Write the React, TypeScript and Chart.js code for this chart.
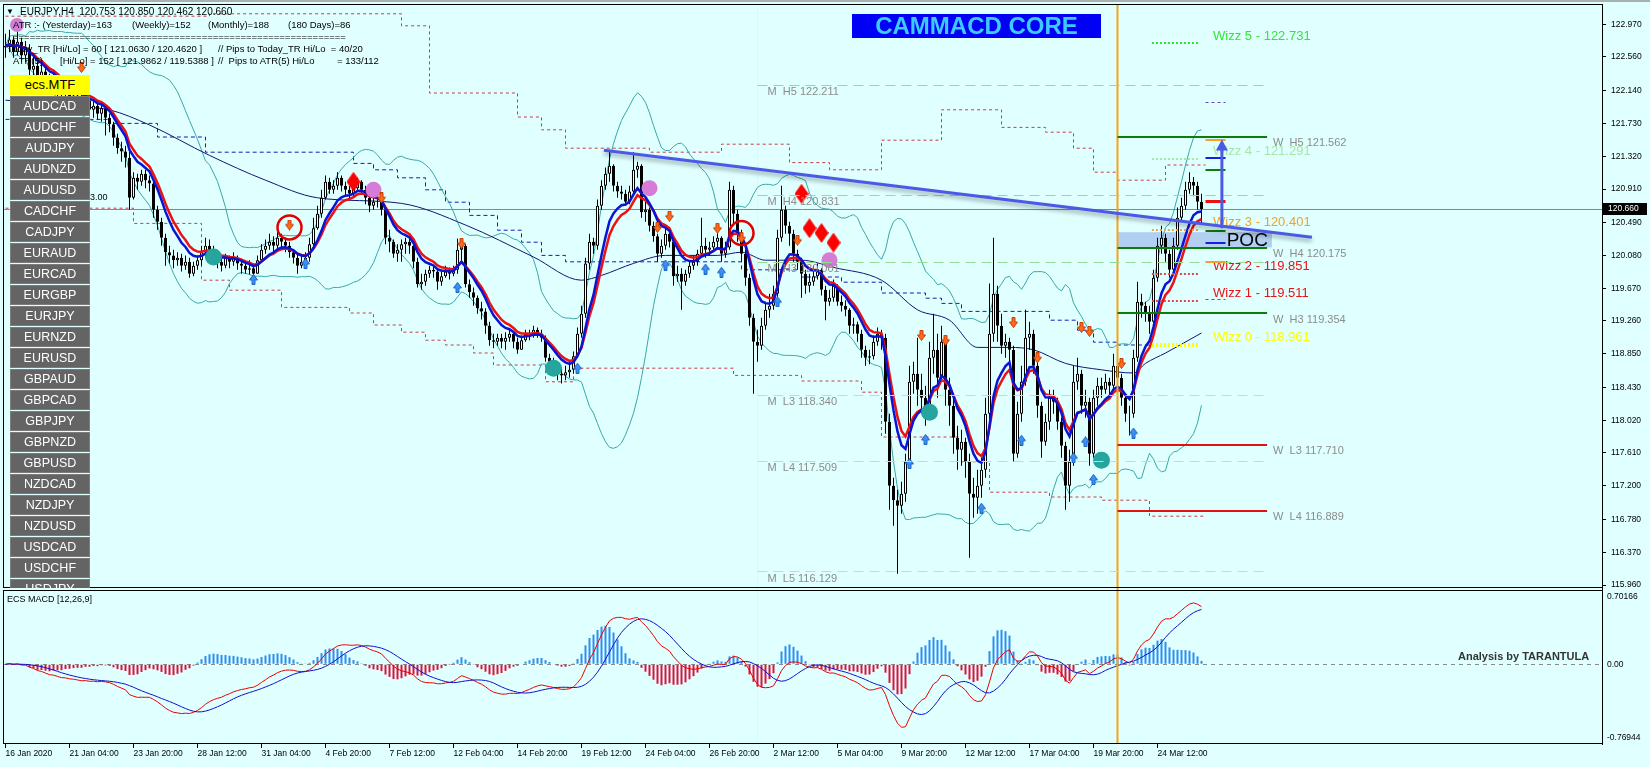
import React, { useEffect, useRef } from "react";
import { Chart, registerables } from "chart.js";
Chart.register(...registerables);

// ---------------- data ----------------
const symbolTitle = "EURJPY,H4  120.753 120.850 120.462 120.660";
const firstOpen = 122.68;
const closes = [
  122.70,122.78,122.62,122.75,122.58,122.66,122.40,122.45,122.30,122.38,
  122.25,122.20,122.28,122.15,122.10,122.18,122.05,122.08,122.00,121.95,
  122.02,121.90,121.95,121.85,121.92,121.80,121.72,121.55,121.42,121.38,
  121.30,120.80,121.05,121.00,121.10,121.02,120.98,120.65,120.50,120.30,
  120.12,120.08,120.02,120.05,119.95,120.00,119.85,119.95,120.02,120.12,
  120.20,120.15,120.08,120.00,119.95,120.05,120.00,120.05,119.98,119.95,
  119.90,119.92,119.85,120.02,120.15,120.20,120.25,120.20,120.30,120.25,
  120.20,120.12,120.05,119.95,120.00,120.05,120.22,120.42,120.60,120.80,
  121.00,120.90,120.95,121.05,120.95,120.90,120.85,120.92,121.00,120.90,
  120.80,120.70,120.75,120.75,120.65,120.30,120.25,120.10,120.15,120.22,
  120.25,120.20,120.00,119.72,119.75,119.85,119.90,119.88,119.75,119.82,
  119.88,119.85,119.90,120.15,120.20,119.72,119.62,119.55,119.42,119.38,
  119.20,119.02,119.00,119.05,119.00,119.05,119.10,119.00,118.90,119.02,
  119.10,119.08,119.15,119.10,119.05,118.80,118.75,118.70,118.60,118.58,
  118.62,118.65,118.82,119.10,119.35,119.98,120.25,120.20,120.70,120.95,
  121.10,121.20,120.95,120.88,120.85,120.75,120.88,121.15,121.20,120.62,
  120.65,120.45,120.32,120.10,120.20,120.35,120.25,119.82,119.85,119.75,
  119.85,119.95,120.00,120.10,120.20,120.15,120.18,120.25,120.30,120.10,
  120.18,120.90,120.60,120.35,120.10,119.80,119.30,119.00,118.95,119.20,
  119.40,119.45,119.60,120.30,120.65,120.45,120.35,120.10,120.00,119.85,
  119.70,119.75,119.82,119.90,119.65,119.50,119.55,119.70,119.50,119.45,
  119.40,119.20,119.22,119.10,118.90,118.80,118.82,119.00,119.10,119.05,
  118.00,117.20,117.02,116.95,117.10,117.50,118.50,118.60,118.40,118.30,
  118.15,118.80,118.90,118.55,119.00,118.40,118.20,117.80,117.65,117.75,
  117.50,117.10,117.05,117.20,117.40,118.10,119.10,119.60,119.20,118.95,
  119.00,118.90,117.60,118.10,118.50,119.05,119.10,118.70,118.20,117.75,
  118.00,118.30,118.25,118.00,117.70,117.20,117.50,118.50,118.60,118.20,
  118.25,117.60,118.30,118.45,118.40,118.50,118.45,118.70,118.55,118.30,
  118.10,118.10,118.80,119.50,119.45,119.35,119.25,119.80,120.20,120.30,
  120.10,119.90,120.20,120.55,120.70,120.90,121.00,120.95,120.75,120.66
];
const highs = [
  122.85,122.90,122.82,122.88,122.80,122.76,122.72,122.55,122.50,122.48,
  122.42,122.35,122.38,122.32,122.25,122.28,122.22,122.18,122.15,122.10,
  122.10,122.05,122.02,121.98,121.98,121.95,121.85,121.75,121.60,121.50,
  121.45,121.38,121.12,121.10,121.15,121.15,121.08,121.00,120.70,120.55,
  120.35,120.20,120.15,120.12,120.10,120.08,120.05,120.00,120.08,120.20,
  120.30,120.28,120.20,120.12,120.05,120.10,120.08,120.12,120.08,120.03,
  120.00,120.02,119.98,120.08,120.22,120.28,120.35,120.32,120.38,120.35,
  120.30,120.25,120.15,120.10,120.08,120.12,120.30,120.55,120.70,120.90,
  121.08,121.05,121.02,121.12,121.08,121.00,120.95,120.98,121.05,121.02,
  120.95,120.85,120.82,120.82,120.80,120.68,120.40,120.28,120.22,120.28,
  120.30,120.30,120.22,120.05,119.85,119.90,119.95,119.95,119.92,119.90,
  119.95,119.93,119.95,120.29,120.25,120.22,119.78,119.68,119.58,119.50,
  119.42,119.25,119.10,119.10,119.10,119.12,119.15,119.12,119.05,119.08,
  119.15,119.15,119.20,119.18,119.15,119.08,118.85,118.80,118.72,118.68,
  118.70,118.75,118.88,119.18,119.45,120.05,120.35,120.30,120.78,121.02,
  121.18,121.40,121.22,121.00,120.95,120.90,120.95,121.37,121.25,121.22,
  120.75,120.68,120.50,120.35,120.28,120.42,120.40,120.28,119.95,119.92,
  119.90,120.00,120.08,120.15,120.55,120.30,120.25,120.32,120.45,120.32,
  120.25,121.00,120.95,120.65,120.40,120.15,119.85,119.35,119.15,119.30,
  119.50,119.60,119.70,120.40,120.95,120.70,120.50,120.40,120.15,120.05,
  119.90,119.85,119.95,119.98,119.92,119.70,119.65,119.78,119.72,119.58,
  119.52,119.42,119.30,119.25,119.15,118.95,118.90,119.08,119.18,119.15,
  119.10,118.10,117.30,117.15,117.25,117.60,118.70,118.75,119.05,118.60,
  118.45,119.00,119.35,119.10,119.20,119.05,118.55,118.30,117.95,117.90,
  117.80,117.60,117.30,117.40,117.55,118.30,119.73,120.30,119.70,119.35,
  119.10,119.05,118.95,118.25,118.70,119.40,119.25,119.15,118.75,118.25,
  118.10,118.40,118.40,118.30,118.05,117.75,117.65,118.70,118.80,118.65,
  118.40,118.30,118.40,118.55,118.55,118.60,118.55,118.85,118.78,118.60,
  118.35,118.20,118.90,119.75,119.60,119.50,119.45,119.90,120.30,120.45,
  120.35,120.15,120.30,120.68,120.80,121.00,121.12,121.06,121.00,120.85
];
const lows = [
  122.55,122.62,122.55,122.58,122.50,122.50,122.30,122.30,122.20,122.22,
  122.15,122.10,122.12,122.05,122.00,122.02,121.98,121.95,121.90,121.85,
  121.88,121.82,121.80,121.78,121.75,121.58,121.62,121.45,121.35,121.25,
  121.18,120.65,120.78,120.90,120.95,120.92,120.88,120.55,120.40,120.20,
  119.95,119.98,119.92,119.95,119.88,119.90,119.80,119.82,119.90,119.95,
  120.05,120.05,119.98,119.92,119.88,119.92,119.92,119.95,119.90,119.85,
  119.85,119.84,119.80,119.85,120.00,120.10,120.15,120.12,120.15,120.15,
  120.12,120.05,119.98,119.85,119.92,119.95,120.00,120.20,120.40,120.55,
  120.78,120.85,120.85,120.90,120.88,120.82,120.78,120.80,120.88,120.85,
  120.72,120.62,120.65,120.68,120.58,120.22,120.12,120.05,120.00,120.00,
  120.10,120.10,119.92,119.68,119.65,119.70,119.80,119.80,119.65,119.70,
  119.80,119.78,119.82,119.85,120.00,119.68,119.55,119.45,119.35,119.28,
  119.10,118.95,118.92,118.95,118.92,118.90,119.00,118.92,118.85,118.90,
  119.00,119.02,119.05,119.05,119.00,118.75,118.68,118.60,118.52,118.48,
  118.52,118.55,118.60,118.80,119.05,119.30,119.90,120.10,120.15,120.65,
  120.90,121.00,120.88,120.80,120.78,120.70,120.72,120.85,121.05,120.55,
  120.50,120.38,120.25,120.00,120.05,120.15,120.18,119.70,119.75,119.40,
  119.70,119.80,119.90,119.95,120.05,120.05,120.08,120.12,120.15,120.00,
  120.05,120.15,120.45,120.25,120.00,119.70,119.20,118.35,118.75,118.90,
  119.15,119.30,119.40,119.55,120.25,120.35,120.20,120.00,119.90,119.55,
  119.60,119.62,119.70,119.78,119.58,119.27,119.45,119.50,119.45,119.38,
  119.32,119.10,119.10,119.00,118.80,118.70,118.72,118.78,118.95,118.90,
  117.85,116.90,116.70,116.10,116.85,117.00,117.45,118.35,118.20,118.10,
  117.95,118.05,118.60,118.30,118.50,118.20,117.95,117.60,117.40,117.45,
  117.30,116.30,116.80,116.85,117.05,117.30,118.00,119.00,119.00,118.85,
  118.80,118.75,117.50,117.55,118.00,118.45,118.90,118.60,118.05,117.55,
  117.70,117.90,118.10,117.90,117.55,116.90,117.00,117.45,118.40,118.10,
  118.05,117.45,117.55,118.20,118.30,118.35,118.30,118.40,118.45,118.20,
  118.00,117.83,118.05,118.75,119.30,119.25,119.10,119.20,119.75,120.10,
  120.00,119.80,119.85,120.15,120.50,120.65,120.85,120.82,120.65,120.46
];

const timeLabels = [
  "16 Jan 2020","21 Jan 04:00","23 Jan 20:00","28 Jan 12:00","31 Jan 04:00","4 Feb 20:00",
  "7 Feb 12:00","12 Feb 04:00","14 Feb 20:00","19 Feb 12:00","24 Feb 04:00","26 Feb 20:00",
  "2 Mar 12:00","5 Mar 04:00","9 Mar 20:00","12 Mar 12:00","17 Mar 04:00","19 Mar 20:00","24 Mar 12:00"
];
const barsPerLabel = 16;
const priceTicks = [122.970,122.560,122.140,121.730,121.320,120.910,120.490,120.080,119.670,119.260,118.850,118.430,118.020,117.610,117.200,116.780,116.370,115.960];
const lastPrice = 120.660;
const macdTicks = [0.70166, 0, -0.76944];
const macdTickLabels = ["0.70166", "0.00", "-0.76944"];

// slow MA (thin navy)
const navyBars = [0,21,26,36,51,65,78,99,115,132,144,149,157,165,178,184,190,199,207,219,228,236,243,251,257,265,274,282,285,290,299];
const navyValues = [122.02,121.93,121.90,121.71,121.33,121.02,120.80,120.73,120.46,120.06,119.77,119.83,119.98,120.08,120.08,120.12,120.02,120.02,119.93,119.77,119.40,119.27,118.93,118.93,118.90,118.73,118.65,118.61,118.73,118.86,119.11];
// stepped red dotted envelopes
const upperEnvBars = [0,51,99,106,128,134,140,161,179,196,206,219,234,249,260,267,272,278,290,300];
const upperEnvValues = [123.07,123.10,122.95,122.11,121.81,121.65,121.42,121.37,121.47,121.24,121.15,121.52,121.90,121.68,121.62,121.42,121.12,121.02,121.21,121.21];
const lowerEnvBars = [0,32,49,56,69,86,92,99,105,110,117,122,135,142,182,199,214,219,239,246,261,274,286,300];
const lowerEnvValues = [120.67,120.48,119.77,119.645,119.43,119.36,119.21,119.12,119.02,118.96,118.86,118.71,118.50,118.67,118.58,118.51,118.37,117.81,117.50,117.12,117.06,117.02,116.82,116.82];
// stepped blue dashed
const blueStepBars = [0,26,38,50,87,92,98,105,110,116,123,129,134,140,184,199,209,219,230,234,239,261,268,272,278,286];
const blueStepValues = [121.78,121.73,121.56,121.37,121.23,121.15,121.05,120.90,120.745,120.58,120.395,120.245,120.08,120.00,119.90,119.81,119.745,119.61,119.545,119.48,119.38,119.27,119.145,118.995,118.96,118.96];

// markers
const diamondBars = [87,199,201,204,207];
const diamondPrices = [121.00,120.85,120.42,120.36,120.24];
const violetBars = [92,161,206];
const violetPrices = [120.90,120.92,120.02];
const tealBars = [52,137,231,274];
const tealPrices = [120.06,118.67,118.12,117.52];
const ringBars = [71,184];
const ringPrices = [120.43,120.36];
const downArrowBars = [19,71,94,114,163,166,178,184,198,229,235,252,258,269,271,279];
const downArrowPrices = [122.43,120.46,120.80,120.23,120.43,120.57,120.42,120.30,120.27,119.08,119.02,119.24,118.80,119.18,119.13,118.73];
const upArrowBars = [62,75,113,143,165,175,179,193,226,230,244,254,267,270,272,282];
const upArrowPrices = [119.78,119.98,119.68,118.67,119.96,119.91,119.87,119.50,117.48,117.78,116.92,117.77,117.55,117.75,117.28,117.86];

// objects
const trendBars = [149.6, 326.6];
const trendPrices = [121.395, 120.308];
const targetArrowBar = 304.1;
const targetArrowFrom = 120.42;
const targetArrowTo = 121.53;
const separatorBars = [188];
const sessionBar = 278;

const mLevelNames = ["M  H5","M  H4","M  H3","M  L3","M  L4","M  L5"];
const mLevelValues = [122.211,120.831,120.001,118.340,117.509,116.129];
const mLevelColors = ["#93dd93","#93dd93","#93dd93","#f2c4c4","#f2c4c4","#f2c4c4"];
const mLevelFrom = 188, mLevelTo = 315.4, mLabelBar = 190.5;

const wLevelNames = ["W  H5","W  H4","W  H3","W  L3","W  L4"];
const wLevelValues = [121.562,120.175,119.354,117.710,116.889];
const wLevelColors = ["#0a7d0a","#0a7d0a","#0a7d0a","#e31010","#e31010"];
const wLevelFrom = 278, wLevelTo = 315.4, wLabelBar = 316.9;

const wizzNames = ["Wizz 5","Wizz 4","Wizz 3","Wizz 2","Wizz 1","Wizz 0"];
const wizzValues = [122.731,121.291,120.401,119.851,119.511,118.961];
const wizzTextColors = ["#33e633","#a6e6a6","#f0a22a","#e61414","#e61414","#ffff00"];
const wizzLineColors = ["#33dd33","#a6e6a6","#e8a84a","#e04848","#e04848","#ffff00"];
const wizzFrom = 286.6, wizzTo = 298.1, wizzLabelBar = 301.9;

const markValues = [121.52,121.30,121.145,120.76,120.38,120.23,119.995];
const markColors = ["#f0a22a","#1020e0","#0a7d0a","#ee1010","#0a7d0a","#1020e0","#f0a22a"];
const markWidths = [2,2,2,3,2,2,2];
const purpleMarkValues = [121.995,119.53];
const markFrom = 300, markTo = 305;

const pocFrom = 278, pocTo = 316.6, pocTop = 120.37, pocBottom = 120.18, pocLabelBar = 305.3;

const pairButtons = ["AUDCAD","AUDCHF","AUDJPY","AUDNZD","AUDUSD","CADCHF","CADJPY","EURAUD","EURCAD","EURGBP","EURJPY","EURNZD","EURUSD","GBPAUD","GBPCAD","GBPJPY","GBPNZD","GBPUSD","NZDCAD","NZDJPY","NZDUSD","USDCAD","USDCHF","USDJPY"];

// ---------------- helpers ----------------
function ema(src: number[], n: number) {
  const k = 2 / (n + 1);
  let e = src[0];
  return src.map((v, i) => (e = i === 0 ? v : e + k * (v - e)));
}
function sma(src: number[], n: number) {
  return src.map((_, i) => {
    const w = src.slice(Math.max(0, i - n + 1), i + 1);
    return w.reduce((a, b) => a + b, 0) / w.length;
  });
}
function stdev(src: number[], n: number) {
  return src.map((_, i) => {
    const w = src.slice(Math.max(0, i - n + 1), i + 1);
    const m = w.reduce((a, b) => a + b, 0) / w.length;
    return Math.sqrt(w.reduce((a, b) => a + (b - m) * (b - m), 0) / w.length);
  });
}
const pts = (xs: number[], ys: number[]) => xs.map((x, i) => ({ x, y: ys[i] }));

function makeArrow(fill: string, edge: string, up: boolean) {
  const c = document.createElement("canvas");
  c.width = 9; c.height = 11;
  const g = c.getContext("2d")!;
  if (up) { g.translate(0, 11); g.scale(1, -1); }
  g.beginPath();
  g.moveTo(3, 0.5); g.lineTo(6, 0.5); g.lineTo(6, 5); g.lineTo(8.5, 5);
  g.lineTo(4.5, 10.5); g.lineTo(0.5, 5); g.lineTo(3, 5); g.closePath();
  g.fillStyle = fill; g.fill();
  g.strokeStyle = edge; g.lineWidth = 1; g.stroke();
  return c;
}
function makeDiamond() {
  const c = document.createElement("canvas");
  c.width = 14; c.height = 20;
  const g = c.getContext("2d")!;
  g.beginPath(); g.moveTo(7, 0); g.lineTo(14, 10); g.lineTo(7, 20); g.lineTo(0, 10); g.closePath();
  g.fillStyle = "#ff0000"; g.fill();
  return c;
}

const FONT = '"Liberation Sans", Arial, sans-serif';
const MAIN_WEIGHT = 584, MACD_WEIGHT = 156;
const noPad = (s: any) => { s.paddingTop = 0; s.paddingBottom = 0; s.paddingLeft = 0; s.paddingRight = 0; };

const mt4Plugin = {
  id: "mt4",
  beforeDatasetsDraw(chart: any) {
    const { ctx, chartArea: a, scales } = chart;
    const x = scales.x, y = scales.y, y2 = scales.y2;
    ctx.save();
    const bx1 = x.getPixelForValue(pocFrom), bx2 = x.getPixelForValue(pocTo);
    const by1 = y.getPixelForValue(pocTop), by2 = y.getPixelForValue(pocBottom);
    ctx.fillStyle = "rgba(172,202,238,0.9)";
    ctx.fillRect(bx1, by1, bx2 - bx1, by2 - by1);
    ctx.lineWidth = 1;
    ctx.strokeStyle = "#f8f8b0";
    separatorBars.forEach((b) => {
      const px = Math.floor(x.getPixelForValue(b)) + 0.5;
      ctx.beginPath(); ctx.moveTo(px, a.top); ctx.lineTo(px, a.bottom); ctx.stroke();
    });
    const cy = Math.round(y.getPixelForValue(lastPrice)) + 0.5;
    ctx.strokeStyle = "#7f8c8c";
    ctx.beginPath(); ctx.moveTo(a.left, cy); ctx.lineTo(a.right, cy); ctx.stroke();
    const zy = Math.round(y2.getPixelForValue(0)) + 0.5;
    ctx.setLineDash([4, 4]);
    ctx.strokeStyle = "#8a8a8a";
    ctx.beginPath(); ctx.moveTo(a.left, zy); ctx.lineTo(a.right, zy); ctx.stroke();
    ctx.setLineDash([]);
    ctx.restore();
  },
  afterDatasetsDraw(chart: any) {
    const { ctx, chartArea: a, scales } = chart;
    const x = scales.x, y = scales.y, y2 = scales.y2;
    const hline = (v: number, from: number, to: number, color: string, w: number, dash: number[]) => {
      const py = Math.round(y.getPixelForValue(v)) + (w % 2 ? 0.5 : 0);
      ctx.strokeStyle = color; ctx.lineWidth = w; ctx.setLineDash(dash);
      ctx.beginPath(); ctx.moveTo(x.getPixelForValue(from), py); ctx.lineTo(x.getPixelForValue(to), py); ctx.stroke();
      ctx.setLineDash([]);
    };
    const text = (s: string, bar: number, v: number, dy: number, color: string, font: string) => {
      ctx.font = font; ctx.fillStyle = color; ctx.textAlign = "left"; ctx.textBaseline = "middle";
      ctx.fillText(s, x.getPixelForValue(bar), y.getPixelForValue(v) + dy);
    };
    ctx.save();
    const sx = x.getPixelForValue(sessionBar);
    ctx.strokeStyle = "#f5a31a"; ctx.lineWidth = 2;
    ctx.beginPath(); ctx.moveTo(sx, a.top); ctx.lineTo(sx, a.bottom); ctx.stroke();
    mLevelValues.forEach((v, k) => {
      hline(v, mLevelFrom, mLevelTo, mLevelColors[k], 1, [10, 6]);
      text(`${mLevelNames[k]} ${v.toFixed(3)}`, mLabelBar, v, 7, "#8c8c8c", `11px ${FONT}`);
    });
    wLevelValues.forEach((v, k) => {
      hline(v, wLevelFrom, wLevelTo, wLevelColors[k], 2, []);
      text(`${wLevelNames[k]} ${v.toFixed(3)}`, wLabelBar, v, 6, "#8c8c8c", `11px ${FONT}`);
    });
    wizzValues.forEach((v, k) => {
      hline(v, wizzFrom, wizzTo, wizzLineColors[k], k === 5 ? 4 : 2, [2, 2]);
      text(`${wizzNames[k]} - ${v.toFixed(3)}`, wizzLabelBar, v, -7, wizzTextColors[k], `13px ${FONT}`);
    });
    markValues.forEach((v, k) => hline(v, markFrom, markTo, markColors[k], markWidths[k], []));
    purpleMarkValues.forEach((v) => hline(v, markFrom, markTo, "#7040c0", 1, [3, 3]));
    text("POC", pocLabelBar, (pocTop + pocBottom) / 2, 1, "#000000", `19px ${FONT}`);
    ctx.save();
    ctx.shadowColor = "rgba(0,0,0,0.35)"; ctx.shadowBlur = 4; ctx.shadowOffsetY = 3;
    ctx.strokeStyle = "#4a5ae6"; ctx.lineWidth = 3;
    ctx.beginPath();
    ctx.moveTo(x.getPixelForValue(trendBars[0]), y.getPixelForValue(trendPrices[0]));
    ctx.lineTo(x.getPixelForValue(trendBars[1]), y.getPixelForValue(trendPrices[1]));
    ctx.stroke();
    ctx.restore();
    const ax = x.getPixelForValue(targetArrowBar);
    const ay1 = y.getPixelForValue(targetArrowFrom), ay2 = y.getPixelForValue(targetArrowTo);
    ctx.strokeStyle = "#4a5ae6"; ctx.fillStyle = "#4a5ae6"; ctx.lineWidth = 3;
    ctx.beginPath(); ctx.moveTo(ax, ay1); ctx.lineTo(ax, ay2 + 8); ctx.stroke();
    ctx.beginPath(); ctx.moveTo(ax, ay2); ctx.lineTo(ax - 6, ay2 + 11); ctx.lineTo(ax + 6, ay2 + 11); ctx.closePath(); ctx.fill();
    ctx.strokeStyle = "#000"; ctx.lineWidth = 1;
    ctx.strokeRect(a.left + 0.5, y.top + 0.5, a.right - a.left, y.bottom - y.top - 1);
    ctx.strokeRect(a.left + 0.5, y2.top + 2.5, a.right - a.left, y2.bottom - y2.top - 3);
    ctx.restore();
  },
  afterDraw(chart: any) {
    const { ctx, scales } = chart;
    const y = scales.y;
    const py = Math.round(y.getPixelForValue(lastPrice));
    ctx.save();
    ctx.fillStyle = "#000";
    ctx.fillRect(y.left + 1, py - 6, 44, 12);
    ctx.fillStyle = "#fff"; ctx.font = `8.5px ${FONT}`; ctx.textBaseline = "middle"; ctx.textAlign = "left";
    ctx.fillText(lastPrice.toFixed(3), y.left + 6, py);
    ctx.restore();
  },
};

function T(props: { x: number; y: number; s: number; c?: string; b?: boolean; t: string }) {
  return (
    <div style={{ position: "absolute", left: props.x, top: props.y - props.s * 0.6, fontSize: props.s, lineHeight: `${props.s * 1.2}px`, color: props.c || "#000", fontWeight: props.b ? 700 : 400, whiteSpace: "pre", fontFamily: FONT }}>
      {props.t}
    </div>
  );
}

export default function App() {
  const ref = useRef<HTMLCanvasElement>(null);
  useEffect(() => {
    const canvas = ref.current!;
    const opens = closes.map((c, i) => (i === 0 ? firstOpen : closes[i - 1]));
    const idx = closes.map((_, i) => i);
    const wicks = idx.map((i) => ({ x: i, y: [Math.min(lows[i], opens[i], closes[i]), Math.max(highs[i], opens[i], closes[i])] }));
    const bodies = idx.map((i) => ({ x: i, y: [opens[i], closes[i]] }));
    const bodyFill = idx.map((i) => (closes[i] >= opens[i] ? "#ffffff" : "#000000"));
    const fastMa = ema(closes, 8);
    const slowMa = ema(closes, 10);
    const mid = sma(closes, 20), sd = stdev(closes, 20);
    const bbUp = mid.map((m, i) => m + 2 * sd[i]);
    const bbDn = mid.map((m, i) => m - 2 * sd[i]);
    const e12 = ema(closes, 12), e26 = ema(closes, 26);
    const macdMain = e12.map((v, i) => v - e26[i]);
    const macdSignal = sma(macdMain, 9);
    const macdHist = macdMain.map((v, i) => 1.2 * (v - macdSignal[i]));

    const lineBase = { type: "line", pointRadius: 0, fill: false, xAxisID: "x", yAxisID: "y" };
    const scatterBase = { type: "scatter", xAxisID: "x", yAxisID: "y", showLine: false };

    const downImg = makeArrow("#ff6a1c", "#c83c00", false);
    const upImg = makeArrow("#3a92f2", "#1e64c8", true);
    const diamond = makeDiamond();

    Chart.defaults.font.family = FONT;
    const chart = new Chart(canvas, {
      type: "bar",
      data: {
        datasets: [
          { ...lineBase, data: pts(idx, bbUp), borderColor: "#3aa6a6", borderWidth: 1, order: 20 },
          { ...lineBase, data: pts(idx, bbDn), borderColor: "#3aa6a6", borderWidth: 1, order: 20 },
          { ...lineBase, data: pts(upperEnvBars, upperEnvValues), stepped: "before", borderColor: "#c83c46", borderWidth: 1, borderDash: [3, 3], order: 20 },
          { ...lineBase, data: pts(lowerEnvBars, lowerEnvValues), stepped: "before", borderColor: "#c83c46", borderWidth: 1, borderDash: [3, 3], order: 20 },
          { ...lineBase, data: pts(blueStepBars, blueStepValues), stepped: "before", borderColor: "#1a1ab4", borderWidth: 1, borderDash: [4, 3], order: 20 },
          { ...lineBase, data: pts(navyBars, navyValues), cubicInterpolationMode: "monotone", borderColor: "#14146e", borderWidth: 1, order: 19 },
          { type: "bar", data: wicks, backgroundColor: "#000", borderWidth: 0, barThickness: 1, grouped: false, inflateAmount: 0, xAxisID: "x", yAxisID: "y", order: 15 },
          { type: "bar", data: bodies, backgroundColor: bodyFill, borderColor: "#000", borderWidth: 1, borderSkipped: false, barThickness: 3, grouped: false, inflateAmount: 0, xAxisID: "x", yAxisID: "y", order: 14 },
          { ...lineBase, data: pts(idx, slowMa), borderColor: "#ee1111", borderWidth: 2.5, order: 11 },
          { ...lineBase, data: pts(idx, fastMa), borderColor: "#0a14d2", borderWidth: 2.5, order: 10 },
          { ...scatterBase, data: pts(tealBars, tealPrices), pointStyle: "circle", pointRadius: 8.5, backgroundColor: "#25a59d", borderWidth: 0, order: 6 },
          { ...scatterBase, data: pts(violetBars, violetPrices), pointStyle: "circle", pointRadius: 8, backgroundColor: "#d67bd8", borderWidth: 0, order: 6 },
          { ...scatterBase, data: pts(ringBars, ringPrices), pointStyle: "circle", pointRadius: 12, backgroundColor: "rgba(0,0,0,0)", borderColor: "#e00000", borderWidth: 2.5, order: 5 },
          { ...scatterBase, data: pts(diamondBars, diamondPrices), pointStyle: diamond, order: 5 },
          { ...scatterBase, data: pts(downArrowBars, downArrowPrices), pointStyle: downImg, order: 4 },
          { ...scatterBase, data: pts(upArrowBars, upArrowPrices), pointStyle: upImg, order: 4 },
          { type: "bar", data: pts(idx, macdHist), backgroundColor: macdHist.map((v) => (v >= 0 ? "#2f8ff0" : "#dc143c")), borderWidth: 0, barThickness: 2, grouped: false, inflateAmount: 0, xAxisID: "x", yAxisID: "y2", order: 15 },
          { type: "line", data: pts(idx, macdMain), borderColor: "#e60000", borderWidth: 1, pointRadius: 0, xAxisID: "x", yAxisID: "y2", order: 10 },
          { type: "line", data: pts(idx, macdSignal), borderColor: "#1010c8", borderWidth: 1, pointRadius: 0, xAxisID: "x", yAxisID: "y2", order: 9 },
        ] as any,
      },
      options: {
        responsive: false,
        devicePixelRatio: 1,
        animation: false,
        events: [],
        layout: { autoPadding: false, padding: { left: 3, top: 4, right: 0, bottom: 0 } },
        plugins: { legend: { display: false }, tooltip: { enabled: false } },
        scales: {
          x: {
            type: "linear", min: -0.625, max: 399.125, offset: false, position: "bottom",
            grid: { offset: false, drawOnChartArea: false, drawTicks: true, tickLength: 4, color: "#000" },
            border: { display: false },
            ticks: {
              autoSkip: false, maxRotation: 0, minRotation: 0, align: "start", padding: 1, color: "#000",
              font: { size: 8.5, family: FONT },
              callback: (v: any) => timeLabels[Math.round(Number(v) / barsPerLabel)] ?? "",
            },
            afterBuildTicks: (s: any) => { s.ticks = timeLabels.map((_, k) => ({ value: k * barsPerLabel })); },
            afterFit: (s: any) => { s.height = 23; noPad(s); },
          },
          y: {
            type: "linear", position: "right", stack: "panes", stackWeight: MAIN_WEIGHT,
            min: 115.9225, max: 123.2225,
            grid: { drawOnChartArea: false, drawTicks: true, tickLength: 4, color: "#000" },
            border: { display: true, color: "#000" },
            ticks: { color: "#000", padding: 5, font: { size: 8.5, family: FONT }, callback: (v: any) => Number(v).toFixed(3) },
            afterBuildTicks: (s: any) => { s.ticks = priceTicks.map((value) => ({ value })); },
            afterFit: (s: any) => { s.width = 48; noPad(s); },
          },
          y2: {
            type: "linear", position: "right", stack: "panes", stackWeight: MACD_WEIGHT,
            min: -0.832, max: 0.7956,
            grid: { drawOnChartArea: false, drawTicks: false, color: "#000" },
            border: { display: true, color: "#000" },
            ticks: {
              color: "#000", padding: 5, font: { size: 8.5, family: FONT },
              callback: (v: any) => { const k = macdTicks.indexOf(Number(v)); return k >= 0 ? macdTickLabels[k] : ""; },
            },
            afterBuildTicks: (s: any) => { s.ticks = macdTicks.map((value) => ({ value })); },
            afterFit: (s: any) => { s.width = 48; noPad(s); },
          },
        },
      } as any,
      plugins: [mt4Plugin as any],
    });
    return () => chart.destroy();
  }, []);

  return (
    <div style={{ position: "fixed", left: 0, top: 0, width: 1650, height: 767, background: "#e0ffff", overflow: "hidden", fontFamily: FONT }}>
      <canvas ref={ref} width={1650} height={767} style={{ position: "absolute", left: 0, top: 0, width: 1650, height: 767 }} />
      <div style={{ position: "absolute", left: 0, top: 0, width: 1650, height: 2, background: "#a8b0b0" }} />
      <T x={6} y={12} s={8} t={"▼"} />
      <T x={20} y={12} s={10} t={symbolTitle} />
      <div style={{ position: "absolute", left: 10, top: 18, width: 14, height: 14, borderRadius: 7, background: "#d07ed4" }} />
      <T x={13} y={25} s={9.5} t={"ATR :- (Yesterday)=163"} />
      <T x={132} y={25} s={9.5} t={"(Weekly)=152"} />
      <T x={208} y={25} s={9.5} t={"(Monthly)=188"} />
      <T x={288} y={25} s={9.5} t={"(180 Days)=86"} />
      <T x={13} y={37} s={9.5} t={"=".repeat(60)} />
      <T x={7} y={49} s={9.5} t={"Today_TR [Hi/Lo] = 60 [ 121.0630 / 120.4620 ]"} />
      <T x={218} y={49} s={9.5} t={"// Pips to Today_TR Hi/Lo  = 40/20"} />
      <T x={13} y={61} s={9.5} t={"ATR(5)"} />
      <T x={60} y={61} s={9.5} t={"[Hi/Lo] = 152 [ 121.9862 / 119.5388 ]"} />
      <T x={218} y={61} s={9.5} t={"//  Pips to ATR(5) Hi/Lo"} />
      <T x={337} y={61} s={9.5} t={"= 133/112"} />
      <div style={{ position: "absolute", left: 852, top: 14, width: 249, height: 24, background: "#0000f5", color: "#3ccaff", fontWeight: 700, fontSize: 24, lineHeight: "24px", textAlign: "center", fontFamily: FONT }}>CAMMACD CORE</div>
      <div style={{ position: "absolute", left: 0, top: 0, width: 100, height: 588, overflow: "hidden" }}>
        <div style={{ position: "absolute", left: 10, top: 75, width: 80, height: 20, background: "#ffff00", color: "#000", fontSize: 13, lineHeight: "20px", textAlign: "center" }}>ecs.MTF</div>
        {pairButtons.map((p, k) => (
          <div key={p} style={{ position: "absolute", left: 10, top: 96 + 21 * k, width: 78, height: 18, background: "#646464", border: "1px solid #7c7c7c", color: "#fff", fontSize: 12.5, lineHeight: "18px", textAlign: "center" }}>{p}</div>
        ))}
      </div>
      <T x={90} y={197} s={9} t={"3.00"} />
      <T x={7} y={599} s={9} t={"ECS MACD [12,26,9]"} />
      <T x={1458} y={657} s={11} b c={"#333"} t={"Analysis by TARANTULA"} />
    </div>
  );
}
